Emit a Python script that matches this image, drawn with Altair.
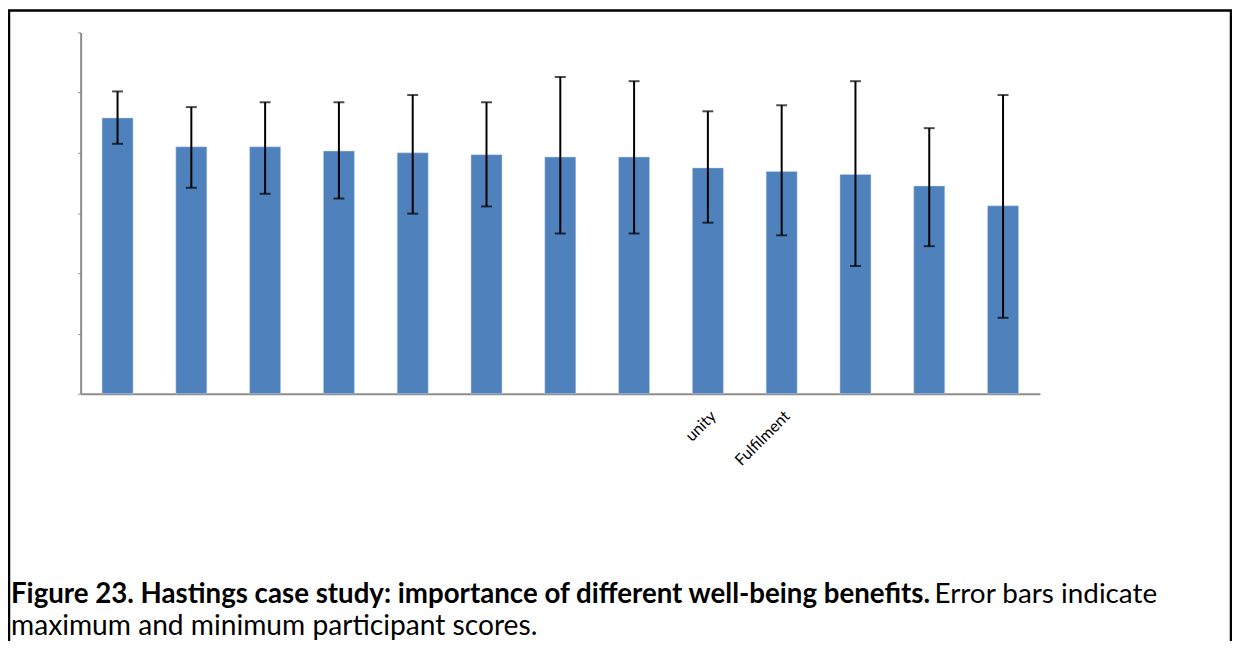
import json
import altair as alt
import pandas as pd

categories = [f"B{i}" for i in range(1, 14)]
tick_labels = ["", "", "", "", "", "", "", "", "unity", "Fulfilment", "", "", ""]
means = [4.58, 4.10, 4.10, 4.03, 4.00, 3.97, 3.93, 3.93, 3.75, 3.69, 3.64, 3.45, 3.12]
maxima = [5.02, 4.76, 4.84, 4.84, 4.96, 4.84, 5.26, 5.19, 4.69, 4.79, 5.19, 4.41, 4.96]
minima = [4.15, 3.42, 3.32, 3.24, 2.99, 3.11, 2.66, 2.66, 2.84, 2.63, 2.12, 2.45, 1.26]

caption_bold = "Figure 23. Hastings case study: importance of different well-being benefits."
caption_rest1 = "Error bars indicate"
caption_line2 = "maximum and minimum participant scores."

df = pd.DataFrame({"cat": categories, "mean": means, "max": maxima, "min": minima})
label_map = json.dumps(dict(zip(categories, tick_labels)))

W, H = 964, 363
L, T = 73, 23
FONT = "Lato"

x = alt.X("cat:N", sort=categories, title=None,
          scale=alt.Scale(paddingInner=0.58, paddingOuter=0.29),
          axis=alt.Axis(labelExpr=f"{label_map}[datum.value]", labelAngle=-45,
                        labelAlign="right", labelBaseline="top", labelFont=FONT,
                        labelFontSize=16, labelColor="#000000", labelPadding=14,
                        ticks=False, domainColor="#8c8c8c", domainWidth=2))
y = alt.Y("mean:Q", title=None, scale=alt.Scale(domain=[0, 6], nice=False),
          axis=alt.Axis(values=[0, 1, 2, 3, 4, 5, 6], labels=False, grid=False,
                        tickSize=3, tickColor="#8c8c8c", domainColor="#8c8c8c",
                        domainWidth=2))

bars = alt.Chart(df).mark_bar(color="#4f81bd", stroke="#c9d7ea", strokeWidth=0.5).encode(x=x, y=y)

err = alt.Chart(df).mark_errorbar(ticks=alt.MarkConfig(size=11, color="#000000", strokeWidth=2),
                                  color="#000000", thickness=2).encode(
    x=alt.X("cat:N", sort=categories),
    y=alt.Y("min:Q", title=None),
    y2="max:Q",
)

cap = pd.DataFrame({"t": [caption_bold, caption_rest1, caption_line2]})

ox, oy = 8 + L, 8 + T
t1 = alt.Chart(cap.iloc[[0]]).mark_text(align="left", baseline="alphabetic", font=FONT,
                                        fontSize=27.8, fontWeight="bold", color="#000000").encode(
    text="t:N", x=alt.value(11 - ox), y=alt.value(604 - oy))
t2 = alt.Chart(cap.iloc[[1]]).mark_text(align="left", baseline="alphabetic", font=FONT,
                                        fontSize=28, color="#000000").encode(
    text="t:N", x=alt.value(939 - ox), y=alt.value(604 - oy))
t3 = alt.Chart(cap.iloc[[2]]).mark_text(align="left", baseline="alphabetic", font=FONT,
                                        fontSize=28.3, color="#000000").encode(
    text="t:N", x=alt.value(11 - ox), y=alt.value(637 - oy))

border = alt.Chart(pd.DataFrame({"a": [0]})).mark_rect(
    fill=None, stroke="#000000", strokeWidth=2.5).encode(
    x=alt.value(9 - ox), x2=alt.value(1237 - ox), y=alt.value(9 - oy), y2=alt.value(800))

chart = alt.layer(border, bars, err, t1, t2, t3).properties(
    width=W, height=H,
    autosize=alt.AutoSizeParams(type="none"),
    padding={"left": L, "top": T, "right": 1230 - L - W, "bottom": 633 - T - H},
).configure(background="#ffffff").configure_view(strokeWidth=0, stroke="transparent")

chart.save("out.html", embed_options={"renderer": "svg", "actions": False})
